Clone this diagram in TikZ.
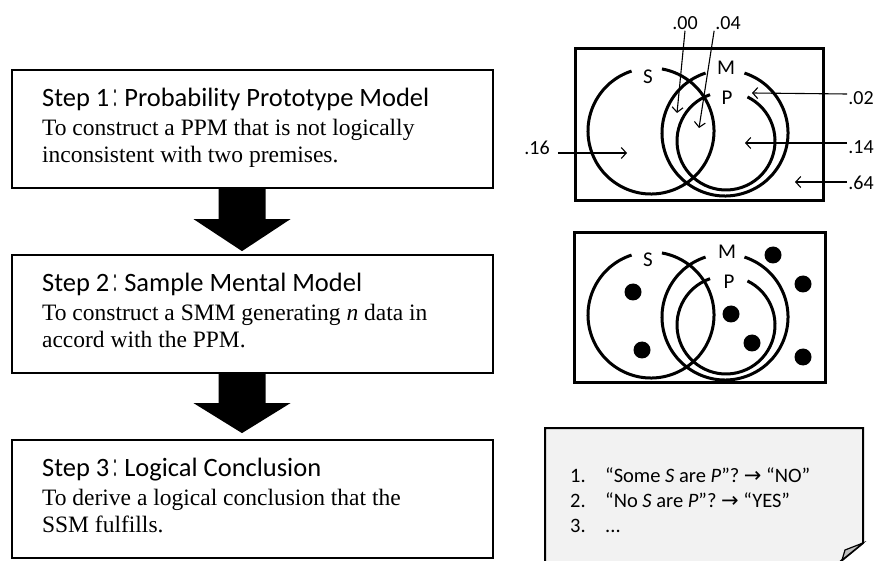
\documentclass[tikz,border=0pt]{standalone}
\usepackage{fontspec}
\usepackage{graphicx}
\setmainfont{Liberation Serif}
\newfontfamily\titlefont{Carlito}
\newfontfamily\cjk{Noto Sans CJK SC}
\newfontfamily\symfont{DejaVu Sans}
\usetikzlibrary{positioning,calc,arrows.meta}

\definecolor{notegray}{HTML}{F2F2F2}
\definecolor{foldgray}{HTML}{BFBFBF}

% full-width colon as in the titles, narrowed
\newcommand{\wcolon}{\hspace{3pt}\scalebox{0.45}[1]{\cjk{：}}}

\tikzset{
  stepbox/.style={draw, line width=2.2pt, minimum width=481pt, minimum height=118pt, inner sep=0pt},
  steptitle/.style={anchor=base west, inner sep=0pt, font=\titlefont\fontsize{26.5}{29}\selectfont},
  stepbody/.style={anchor=base west, align=left, inner sep=0pt, font=\fontsize{23.5}{27}\selectfont},
  vennbox/.style={draw, line width=3pt, inner sep=0pt},
  venn/.style={line width=3pt},
  setlabel/.style={inner sep=0pt, font=\titlefont\fontsize{21}{21}\selectfont},
  num/.style={inner sep=1pt, font=\titlefont\fontsize{20}{20}\selectfont},
  ptr/.style={line width=1.1pt, -{Straight Barb[length=5pt,width=11pt]}},
  note/.style={draw, line width=2pt, fill=notegray},
}

\begin{document}
\begin{tikzpicture}[x=1pt,y=1pt]

    % page size of the reference
    \clip (0,0) rectangle (875,560);

    % the three steps on the left
    \node[stepbox] (s1) at (252.5,431) {};
    \node[stepbox] (s2) at (252.5,246) {};
    \node[stepbox] (s3) at (252.5,61) {};

    % body nodes sit on the baseline of their last line
    \node[steptitle] (h1) at ([xshift=31pt,yshift=-38pt]s1.north west) {Step 1\wcolon Probability Prototype Model};
    \node[stepbody] (b1) at ([yshift=-56pt]h1.base west) {To construct a PPM that is not logically\\inconsistent with two premises.};

    \node[steptitle] (h2) at ([xshift=31pt,yshift=-38pt]s2.north west) {Step 2\wcolon Sample Mental Model};
    \node[stepbody] (b2) at ([yshift=-56pt]h2.base west) {To construct a SMM generating \textit{n} data in\\accord with the PPM.};

    \node[steptitle] (h3) at ([xshift=31pt,yshift=-38pt]s3.north west) {Step 3\wcolon Logical Conclusion};
    \node[stepbody] (b3) at ([yshift=-56pt]h3.base west) {To derive a logical conclusion that the\\SSM fulfills.};

    % block arrows between the steps
    \coordinate (a1) at ([xshift=-10.5pt]s1.south);
    \coordinate (a2) at ([xshift=-10.5pt]s2.south);
    \fill (a1) ++(-23.5,0) -- ++(47,0) -- ++(0,-30) -- ++(25,0) -- ++(-48.5,-32) -- ++(-48.5,32) -- ++(25,0) -- cycle;
    \fill (a2) ++(-23.5,0) -- ++(47,0) -- ++(0,-29) -- ++(25,0) -- ++(-48.5,-30) -- ++(-48.5,30) -- ++(25,0) -- cycle;

    % first Venn diagram with probabilities
    \node[vennbox, minimum width=248pt, minimum height=152pt] (v1) at (699,435) {};
    \coordinate (S1) at (651,429);
    \coordinate (M1) at (725,427);
    \coordinate (P1) at (726,419);
    \draw[venn] ([shift={(108:63)}]S1) arc[start angle=108, end angle=440, radius=63];
    \draw[venn] ([shift={(108:63)}]M1) arc[start angle=108, end angle=432, radius=63];
    \draw[venn] ([shift={(109:49)}]P1) arc[start angle=109, end angle=424, radius=49];
    \node[setlabel] (ls1) at (648,483) {S};
    \node[setlabel] (lm1) at (726,492) {M};
    \node[setlabel] (lp1) at (727,462) {P};

    \node[num] (n00) at (685,537) {.00};
    \node[num] (n04) at (728,537) {.04};
    \node[num] (n02) at (861,462) {.02};
    \node[num] (n14) at (861,413) {.14};
    \node[num] (n64) at (861,377) {.64};
    \node[num] (n16) at (537,412) {.16};

    \coordinate (c00) at (677,447);
    \coordinate (c04) at (699,432);
    \coordinate (c02) at (752,467);
    \coordinate (c14) at (745,417);
    \coordinate (c64) at (795,378);
    \coordinate (c16) at (627,407);
    \draw[ptr] (n00.south) -- (c00);
    \draw[ptr] (n04.south west) -- (c04);
    \draw[ptr] ([yshift=4pt]n02.west) -- (c02);
    \draw[ptr] ([yshift=4pt]n14.west) -- (c14);
    \draw[ptr] ([yshift=1pt]n64.west) -- (c64);
    \draw[ptr, shorten <=7pt] ([yshift=-5pt]n16.east) -- (c16);

    % second Venn diagram with sampled data
    \node[vennbox, minimum width=251pt, minimum height=149pt] (v2) at (699.5,252.5) {};
    \coordinate (S2) at (651,245);
    \coordinate (M2) at (725,243);
    \coordinate (P2) at (726,235);
    \draw[venn] ([shift={(108:63)}]S2) arc[start angle=108, end angle=440, radius=63];
    \draw[venn] ([shift={(108:63)}]M2) arc[start angle=108, end angle=432, radius=63];
    \draw[venn] ([shift={(109:49)}]P2) arc[start angle=109, end angle=424, radius=49];
    \node[setlabel] (ls2) at (648,300) {S};
    \node[setlabel] (lm2) at (727,308) {M};
    \node[setlabel] (lp2) at (729,278) {P};
    \foreach \p in {(633,268),(642,210),(731,246),(752,217),(773,305),(803,276),(803,203)}
        \fill \p circle (8.5);

    % the note with the conclusions
    \filldraw[note] (545,132) -- (863,132) -- (863,17) -- (835,-6) -- (545,-6) -- cycle;
    \filldraw[line width=1.2pt, fill=foldgray] (863,17) -- (845,10) -- (842,0) -- cycle;
    \node[anchor=base west, inner sep=0pt, font=\titlefont\fontsize{20.5}{25}\selectfont] (list) at (570,78)
        {\begin{tabular}[t]{@{}p{35pt}@{}l@{}}
          1. & “Some \textit{S} are \textit{P}”? {\symfont\fontsize{21}{25}\selectfont →} “NO” \\
          2. & “No \textit{S} are \textit{P}”? {\symfont\fontsize{21}{25}\selectfont →} “YES” \\
          3. & ...
        \end{tabular}};

\end{tikzpicture}
\end{document}
